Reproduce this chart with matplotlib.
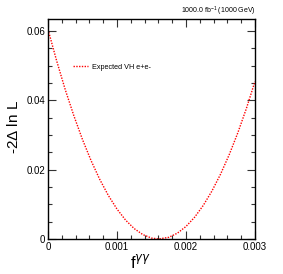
import matplotlib
matplotlib.use("Agg")
import matplotlib.pyplot as plt
from matplotlib.ticker import MultipleLocator, FixedLocator

plt.rcParams['font.family'] = ['Liberation Sans', 'DejaVu Sans']
plt.rcParams['mathtext.fontset'] = 'custom'
plt.rcParams['mathtext.rm'] = 'Liberation Sans'

f_gg = [0.0, 0.000125, 0.00025, 0.000375, 0.0005, 0.000625, 0.00075, 0.000875,
        0.001, 0.001125, 0.00125, 0.001375, 0.0015, 0.0016, 0.00175, 0.001875,
        0.002, 0.002125, 0.00225, 0.002375, 0.0025, 0.002625, 0.00275, 0.002875, 0.003]
nll = [0.0605, 0.05145, 0.0431, 0.03556, 0.0287, 0.02259, 0.0172, 0.01255,
       0.00863, 0.00544, 0.00299, 0.00126, 0.00027, 0.0, 0.00048, 0.00168,
       0.00362, 0.00629, 0.00969, 0.01382, 0.01868, 0.02428, 0.0306, 0.03767, 0.0455]

series_label = "Expected VH e+e-"
lumi_text = r"1000.0 fb$^{\mathrm{-1}}$ (1000 GeV)"
xticks = [0, 0.001, 0.002, 0.003]
xticklabels = ["0", "0.001", "0.002", "0.003"]
yticks = [0, 0.02, 0.04, 0.06]
yticklabels = ["0", "0.02", "0.04", "0.06"]

W, H = 283, 274
fig = plt.figure(figsize=(W/100, H/100), dpi=100)
ax = fig.add_axes([48/W, 1-239/H, 207/W, 220/H])

line, = ax.plot(f_gg, nll, color='red', linestyle=(0, (1, 1)), linewidth=1.0)
ax.set_xlim(0, 0.003)
ax.set_ylim(0, 0.0635)

ax.xaxis.set_major_locator(FixedLocator(xticks))
ax.set_xticklabels(xticklabels)
ax.xaxis.set_minor_locator(MultipleLocator(0.0002))
ax.yaxis.set_major_locator(FixedLocator(yticks))
ax.set_yticklabels(yticklabels)
ax.yaxis.set_minor_locator(MultipleLocator(0.005))

ax.tick_params(which='both', direction='in', top=True, right=True, labelsize=7, width=0.8, color='#333333')
ax.tick_params(which='major', length=6, pad=2)
ax.tick_params(which='minor', length=3)
for s in ax.spines.values():
    s.set_linewidth(1.0)

fig.text(14/W, 1-127/H, r"-2$\Delta$ ln L", rotation=90, ha='center', va='center', fontsize=11)
fig.text(141/W, 1-262/H, r"f$^{\gamma\gamma}$", ha='center', va='center', fontsize=12)
fig.text(256/W, 1-11/H, lumi_text, ha='right', va='center', fontsize=5)

ax.legend([line], [series_label], loc='upper left', bbox_to_anchor=(22/207, 1-42/220),
          frameon=False, fontsize=5.2, handlelength=2.1, handletextpad=0.55, borderaxespad=0)

fig.savefig("out.png", dpi=100)
